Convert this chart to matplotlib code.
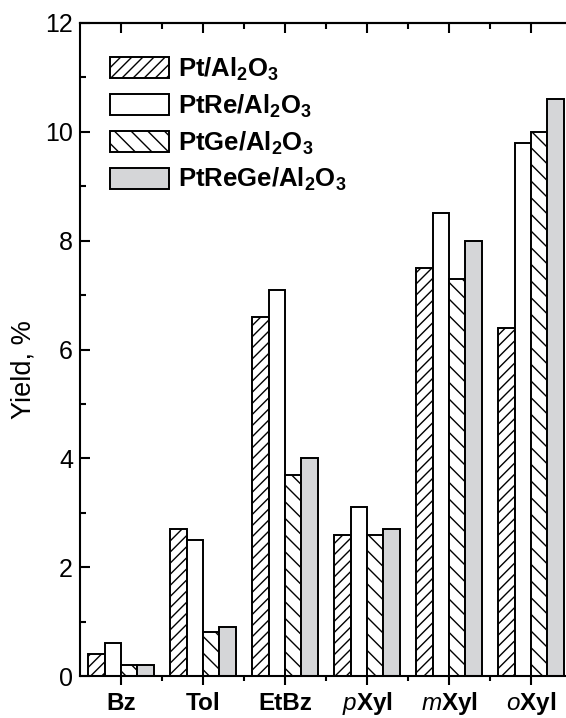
import numpy as np
import matplotlib
matplotlib.use('Agg')
import matplotlib.pyplot as plt
import matplotlib.transforms as mtransforms

plt.rcParams['font.family'] = ['Liberation Sans', 'DejaVu Sans']
plt.rcParams['mathtext.fontset'] = 'custom'
plt.rcParams['mathtext.rm'] = 'Liberation Sans:bold'
plt.rcParams['mathtext.it'] = 'Liberation Sans:italic'
plt.rcParams['mathtext.default'] = 'rm'
plt.rcParams['hatch.linewidth'] = 1.0

# data
categories = ['Bz', 'Tol', 'EtBz', r'$\mathit{p}$Xyl', r'$\mathit{m}$Xyl', r'$\mathit{o}$Xyl']
series = [r'Pt/Al$_2$O$_3$', r'PtRe/Al$_2$O$_3$', r'PtGe/Al$_2$O$_3$', r'PtReGe/Al$_2$O$_3$']
pt     = [0.4, 2.7, 6.6, 2.6, 7.5, 6.4]
ptre   = [0.6, 2.5, 7.1, 3.1, 8.5, 9.8]
ptge   = [0.2, 0.8, 3.7, 2.6, 7.3, 10.0]
ptrege = [0.2, 0.9, 4.0, 2.7, 8.0, 10.6]

# bar styles
fills   = ['white', 'white', 'white', '#d5d6d8']
hatches = ['///', None, '\\\\', None]
# small horizontal nudges (px) of the category labels, as in the original
label_dx = [4, -13, -15, -15, 0, 6]

fig = plt.figure(figsize=(5.66, 7.18), dpi=100)
ax = fig.add_axes([80/566, 42/718, 492/566, 653/718])

x = np.arange(1, len(categories) + 1)
w = 0.2
for i, vals in enumerate([pt, ptre, ptge, ptrege]):
    ax.bar(x + (i - 1.5) * w, vals, width=w, color=fills[i], edgecolor='black',
           linewidth=1.4, hatch=hatches[i], label=series[i])

ax.set_xlim(0.5, 6.5)
ax.set_ylim(0, 12)
ax.set_xticks(x)
ax.set_xticks(x[:-1] + 0.5, minor=True)
ax.set_xticklabels(categories, fontsize=17.5, fontweight='bold', va='baseline')
ax.set_yticks(np.arange(0, 13, 2))
ax.set_yticks(np.arange(1, 12, 2), minor=True)
ax.tick_params(axis='y', labelsize=18)

for lab, dx in zip(ax.get_xticklabels(), label_dx):
    lab.set_transform(lab.get_transform() + mtransforms.ScaledTranslation(dx / 100, 0, fig.dpi_scale_trans))

ax.tick_params(axis='x', which='major', direction='out', length=6.5, width=1.5, pad=18, top=False)
ax.tick_params(axis='x', which='minor', direction='out', length=3.5, width=1.5, top=False)
ax.tick_params(axis='y', which='major', direction='in', length=7.2, width=1.5, pad=5, right=False)
ax.tick_params(axis='y', which='minor', direction='in', length=4.3, width=1.5, right=False)

sec = ax.secondary_xaxis('top')
sec.set_xticks(x)
sec.set_xticks(x[:-1] + 0.5, minor=True)
sec.set_xticklabels([])
sec.tick_params(axis='x', which='major', direction='in', length=7.2, width=1.5)
sec.tick_params(axis='x', which='minor', direction='in', length=4.3, width=1.5)
sec.spines['top'].set_linewidth(1.5)

for s in ax.spines.values():
    s.set_linewidth(1.5)

ax.set_ylabel('Yield, %', fontsize=19.5)
ax.yaxis.set_label_coords(-0.088, 0.469)

ax.legend(loc='upper left', bbox_to_anchor=(0.061, 0.95), frameon=False,
          prop={'size': 18.5, 'weight': 'bold'}, handlelength=2.3, handleheight=0.9,
          handletextpad=0.36, labelspacing=0.375, borderpad=0, borderaxespad=0)

fig.savefig('out.png', dpi=100)
